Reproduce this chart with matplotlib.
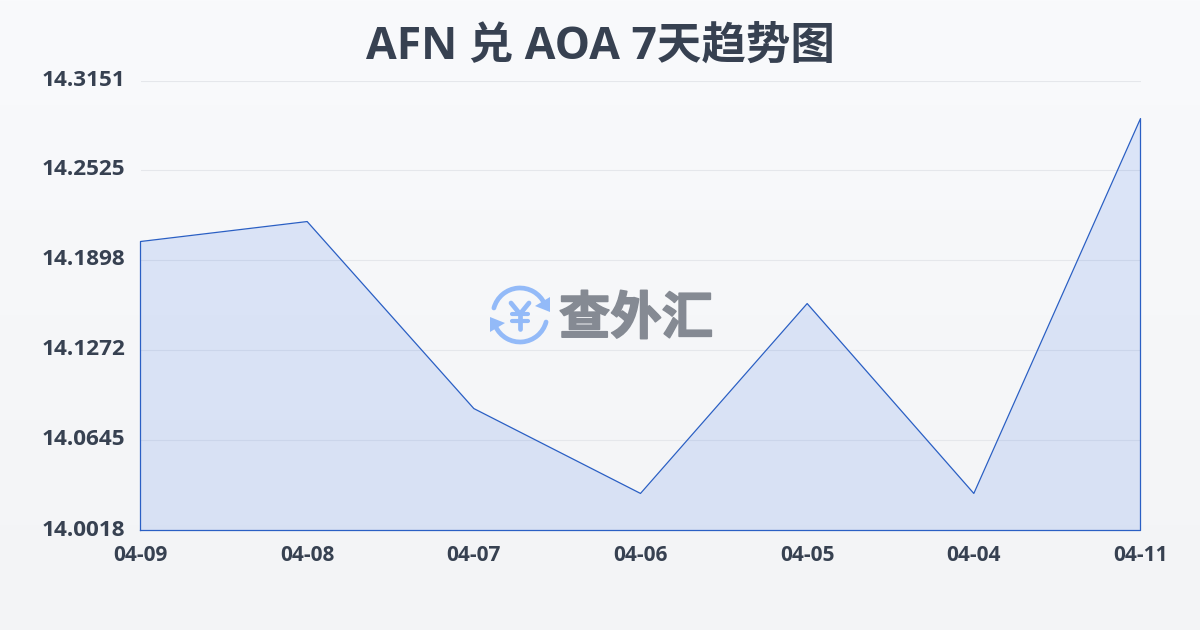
import matplotlib
matplotlib.use('Agg')
import matplotlib.pyplot as plt
import matplotlib.patheffects as pe
import numpy as np
from matplotlib.patches import Arc, Polygon

plt.rcParams['font.family'] = ['Open Sans', 'Noto Sans CJK SC', 'DejaVu Sans']

# data
dates = ['04-09', '04-08', '04-07', '04-06', '04-05', '04-04', '04-11']
rates = [14.2030, 14.2169, 14.0867, 14.0276, 14.1598, 14.0276, 14.2886]
y_ticks = [14.0018, 14.0645, 14.1272, 14.1898, 14.2525, 14.3151]
y_labels = ['14.0018', '14.0645', '14.1272', '14.1898', '14.2525', '14.3151']
title = 'AFN 兑 AOA 7天趋势图'

W, H = 1200, 630
fig = plt.figure(figsize=(W / 100, H / 100), dpi=100)

# background gradient
bg = fig.add_axes([0, 0, 1, 1], zorder=0)
top = np.array([249, 250, 252]) / 255
bottom = np.array([243, 244, 246]) / 255
t = np.linspace(0, 1, H)[:, None, None]
bg.imshow(top + (bottom - top) * t, aspect='auto')
bg.axis('off')

# main chart
ax = fig.add_axes([140.5 / W, 1 - 530.5 / H, 1000 / W, 450 / H], zorder=1)
ax.patch.set_alpha(0)
x = np.arange(len(dates))
ax.fill_between(x, rates, y_ticks[0], color='#3b72e6', alpha=0.15, linewidth=0, zorder=2)
ax.plot(np.r_[x[0], x, x[-1], x[0]], np.r_[y_ticks[0], rates, y_ticks[0], y_ticks[0]],
        color='#2a5fc4', linewidth=0.9, zorder=3, clip_on=False)
ax.set_xlim(0, len(dates) - 1)
ax.set_ylim(y_ticks[0], y_ticks[-1])
ax.set_yticks(y_ticks)
ax.set_yticklabels([])
ax.set_xticks(x)
ax.set_xticklabels(dates, fontsize=15, fontweight='bold', color='#374151')
ax.tick_params(axis='x', length=0, pad=10.5)
ax.tick_params(axis='y', length=0)
ax.grid(axis='y', color='#e5e7eb', linewidth=0.8, zorder=1)
for s in ax.spines.values():
    s.set_visible(False)

# overlay in pixels: title, y labels, logo
ov = fig.add_axes([0, 0, 1, 1], zorder=2)
ov.set_xlim(0, W)
ov.set_ylim(H, 0)
ov.axis('off')
ov.text(600.5, 47, title, ha='center', va='center', fontsize=32, fontweight='bold', color='#374151')
for v, lab in zip(y_ticks, y_labels):
    py = 530 - (v - y_ticks[0]) / (y_ticks[-1] - y_ticks[0]) * 450
    ov.text(125, py, lab, ha='right', va='center', fontsize=16.2, fontweight='bold', color='#374151')

# watermark logo
blue = '#93baf8'
cx, cy = 520, 315
ov.add_patch(Arc((cx, cy), 54, 54, theta1=195, theta2=335, color=blue, lw=3.4, capstyle='round'))
ov.add_patch(Arc((cx, cy), 54, 54, theta1=15, theta2=155, color=blue, lw=3.4, capstyle='round'))
ov.add_patch(Polygon([[550, 297], [550, 312], [535, 306]], color=blue, lw=0))
ov.add_patch(Polygon([[490, 317], [490, 332], [505, 323]], color=blue, lw=0))
ov.plot([511, 520, 529], [303, 314, 303], color=blue, lw=3.4, solid_capstyle='round')
ov.plot([520, 520], [314, 329], color=blue, lw=3.4, solid_capstyle='round')
ov.plot([512, 528], [314, 314], color=blue, lw=3, solid_capstyle='round')
ov.plot([512, 528], [321, 321], color=blue, lw=3, solid_capstyle='round')
ov.text(636, 321, '查外汇', ha='center', va='center', fontsize=37, fontweight='bold', color='#858a93',
        path_effects=[pe.withStroke(linewidth=1.2, foreground='#858a93')])
ov.set_xlim(0, W)
ov.set_ylim(H, 0)

fig.savefig('out.png', dpi=100)
